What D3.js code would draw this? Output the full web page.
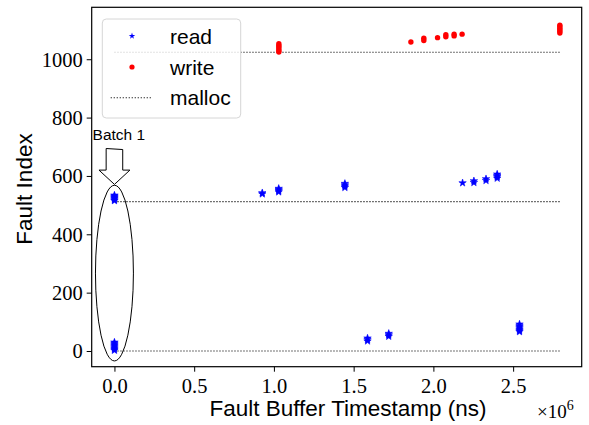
<!DOCTYPE html>
<html><head><meta charset="utf-8">
<script src="https://cdn.jsdelivr.net/npm/d3@7"></script>
<style>body{margin:0;background:#fff}svg{display:block}</style>
</head><body>
<script>
// ---- data ----
const readX = [0,0,0,0,0,0,0, 0,0,0,0,0,0,0,0, 0.927,0.927, 1.03,1.03,1.03,1.03, 1.445,1.445,1.445,1.445, 1.587,1.587,1.587, 1.72,1.72,1.72, 2.183, 2.254,2.254, 2.33,2.33, 2.40,2.40,2.40,2.40, 2.54,2.54,2.54,2.54,2.54,2.54,2.54];
const readY = [515,518,522,525,528,531,534, 2,6,10,14,18,22,26,30, 538,542, 545,549,553,557, 560,565,569,574, 34,39,44, 50,55,60, 576, 577,583, 584,590, 592,597,601,606, 66,70,74,79,83,87,92];
const writeX = [1.031,1.031,1.031,1.031,1.031,1.031, 1.859, 1.94,1.94, 2.026, 2.078,2.078, 2.13,2.13, 2.18, 2.793,2.793,2.793,2.793,2.793,2.793];
const writeY = [1025,1030,1036,1042,1047,1053, 1059, 1064,1072, 1074, 1077,1084, 1080,1086, 1086, 1090,1096,1101,1106,1112,1117];
const mallocY = [0, 512, 1024];
const mallocXRange = [0, 2.8];
const xTicks = [0, 0.5, 1.0, 1.5, 2.0, 2.5];
const yTicks = [0, 200, 400, 600, 800, 1000];
const legendLabels = ["read", "write", "malloc"];

// ---- layout ----
const W = 589, H = 425;
const L = 91.7, R = 581.7, T = 7.3, B = 366.7;
const svg = d3.select("body").append("svg").attr("width", W).attr("height", H);
const x = d3.scaleLinear().domain([-0.1426, 2.930]).range([L, R]);
const y = d3.scaleLinear().domain([-53.8, 1178]).range([B, T]);

const serif = "'Liberation Serif', 'DejaVu Serif', serif";
const sans = "'Liberation Sans', Arial, sans-serif";

// malloc lines
svg.append("g").selectAll("line").data(mallocY).join("line")
  .attr("x1", x(mallocXRange[0])).attr("x2", x(mallocXRange[1]))
  .attr("y1", d => y(d)).attr("y2", d => y(d))
  .attr("stroke", "#000").attr("stroke-width", 1.1).attr("stroke-dasharray", "1.1,1.9");

// read points
const star = d3.symbol().type(d3.symbolStar).size(17);
svg.append("g").selectAll("path").data(readX.map((v,i)=>[v, readY[i]])).join("path")
  .attr("d", star).attr("transform", d => `translate(${x(d[0])},${y(d[1])})`)
  .attr("fill", "#0000ff").attr("stroke", "#0000ff").attr("stroke-width", 0.6);

// write points
svg.append("g").selectAll("circle").data(writeX.map((v,i)=>[v, writeY[i]])).join("circle")
  .attr("cx", d => x(d[0])).attr("cy", d => y(d[1])).attr("r", 2.7)
  .attr("fill", "#ff0000");

// annotation: ellipse
svg.append("ellipse")
  .attr("cx", x(0)).attr("cy", y(267))
  .attr("rx", x(0.119) - x(0)).attr("ry", y(0) - y(301))
  .attr("fill", "none").attr("stroke", "#000").attr("stroke-width", 1);

// annotation: hollow arrow
const tipY = y(571), headY = y(620), topY = y(694);
const hw = x(0.097) - x(0), sw = x(0.052) - x(0), cx0 = x(0);
svg.append("path")
  .attr("d", `M${cx0 - sw},${topY} L${cx0 + sw},${topY + 1} L${cx0 + sw},${headY} L${cx0 + hw},${headY} L${cx0},${tipY} L${cx0 - hw},${headY} L${cx0 - sw},${headY} Z`)
  .attr("fill", "#fff").attr("stroke", "#000").attr("stroke-width", 1);
svg.append("text").attr("x", x(-0.137)).attr("y", y(723))
  .attr("font-family", sans).attr("font-size", 15.5).text("Batch 1");

// axes
const xAxis = svg.append("g").attr("transform", `translate(0,${B})`)
  .call(d3.axisBottom(x).tickValues(xTicks).tickFormat(d3.format(".1f")).tickSize(5).tickSizeOuter(0));
const yAxis = svg.append("g").attr("transform", `translate(${L},0)`)
  .call(d3.axisLeft(y).tickValues(yTicks).tickFormat(d3.format("d")).tickSize(5).tickSizeOuter(0));
[xAxis, yAxis].forEach(g => {
  g.select(".domain").remove();
  g.selectAll("line").attr("stroke", "#000").attr("stroke-width", 1);
  g.selectAll("text").attr("font-family", serif).attr("font-size", 20.5).attr("fill", "#000");
});
xAxis.selectAll("text").attr("dy", null).attr("y", 26);
yAxis.selectAll("text").attr("dy", "0.34em").attr("x", -9);

// frame
svg.append("rect").attr("x", L).attr("y", T).attr("width", R - L).attr("height", B - T)
  .attr("fill", "none").attr("stroke", "#000").attr("stroke-width", 1.2);

// axis labels
svg.append("text").attr("transform", `translate(32,${(T + B) / 2 + 2}) rotate(-90)`)
  .attr("text-anchor", "middle").attr("font-family", sans).attr("font-size", 22.5).text("Fault Index");
svg.append("text").attr("x", 348).attr("y", 416)
  .attr("text-anchor", "middle").attr("font-family", sans).attr("font-size", 22.5).text("Fault Buffer Timestamp (ns)");
const mult = svg.append("text").attr("x", 537).attr("y", 418).attr("font-family", serif).attr("font-size", 19);
mult.append("tspan").text("×10");
mult.append("tspan").attr("dy", -8).attr("font-size", 14).text("6");

// legend
const lg = svg.append("g");
lg.append("rect").attr("x", 102.3).attr("y", 19).attr("width", 138.4).attr("height", 99).attr("rx", 4)
  .attr("fill", "#fff").attr("fill-opacity", 0.8).attr("stroke", "#d6d6d6").attr("stroke-width", 1);
const rowY = [36, 67, 97.7];
lg.append("path").attr("d", d3.symbol().type(d3.symbolStar).size(13))
  .attr("transform", `translate(132,${rowY[0]})`).attr("fill", "#0000ff");
lg.append("circle").attr("cx", 132).attr("cy", rowY[1]).attr("r", 2.6).attr("fill", "#ff0000");
lg.append("line").attr("x1", 110.7).attr("x2", 152.7).attr("y1", rowY[2]).attr("y2", rowY[2])
  .attr("stroke", "#000").attr("stroke-width", 1.1).attr("stroke-dasharray", "1.1,1.9");
lg.selectAll("text.l").data(legendLabels).join("text").attr("class", "l")
  .attr("x", 170).attr("y", (d, i) => rowY[i] + 7.5)
  .attr("font-family", sans).attr("font-size", 21).text(d => d);
</script>
</body></html>
